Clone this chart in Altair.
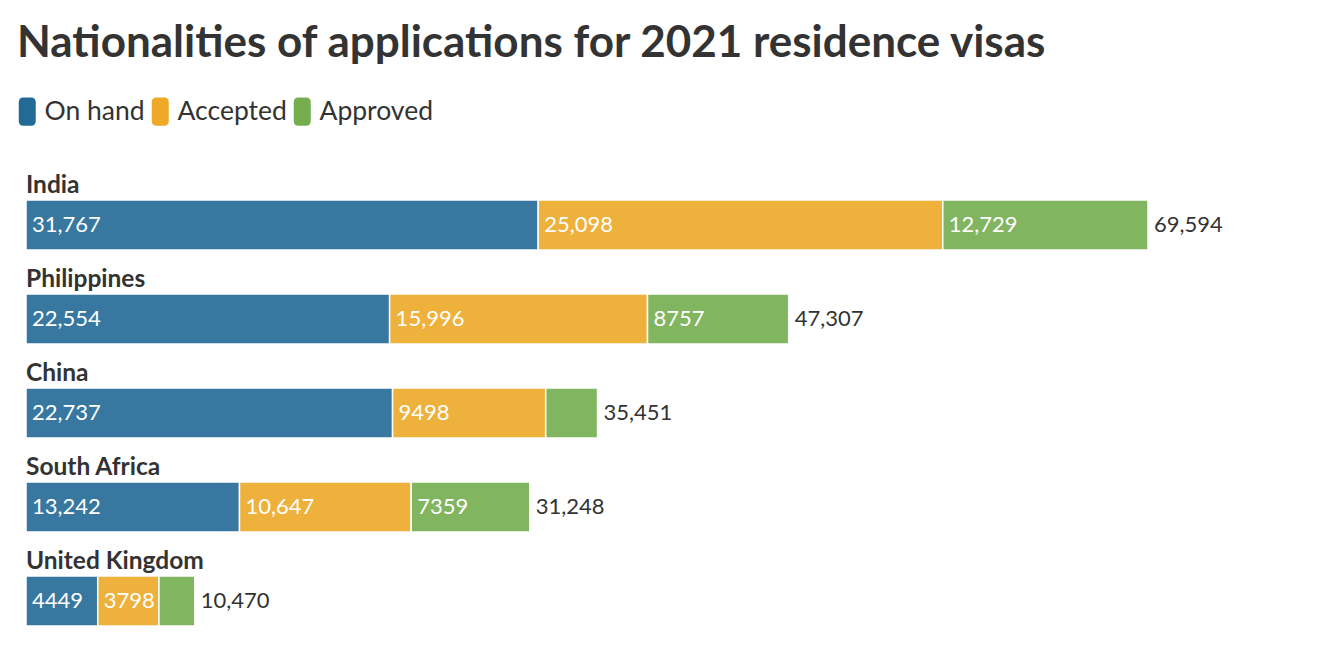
import altair as alt
import pandas as pd

countries = ["India", "Philippines", "China", "South Africa", "United Kingdom"]
statuses = ["On hand", "Accepted", "Approved"]
on_hand = [31767, 22554, 22737, 13242, 4449]
accepted = [25098, 15996, 9498, 10647, 3798]
approved = [12729, 8757, 3216, 7359, 2223]
totals = [69594, 47307, 35451, 31248, 10470]
colors = ["#236a96", "#eda927", "#75ae4e"]


def fmt(v):
    return f"{v:,}" if v >= 10000 else str(v)


rows = []
for i, c in enumerate(countries):
    start = 0
    for s, vals in zip(statuses, [on_hand, accepted, approved]):
        v = vals[i]
        rows.append({
            "country": c, "status": s, "value": v,
            "start": start, "end": start + v,
            "label": fmt(v) if v >= 3500 else "",
        })
        start += v
seg = pd.DataFrame(rows)
tot = pd.DataFrame({"country": countries, "total": totals,
                    "label": [fmt(t) for t in totals]})

FONT = "Lato"
xscale = alt.Scale(domain=[0, totals[0]], nice=False, zero=True)
yscale = alt.Scale(domain=countries, paddingInner=0.468, paddingOuter=0)

legend_path = ("M-1,-1.1 Q-1,-1.65 -0.45,-1.65 H0.45 Q1,-1.65 1,-1.1 V1.1 "
               "Q1,1.65 0.45,1.65 H-0.45 Q-1,1.65 -1,1.1 Z")

bars = alt.Chart(seg).mark_bar(opacity=0.9, stroke="white", strokeWidth=1.5).encode(
    x=alt.X("start:Q", scale=xscale, axis=None),
    x2="end:Q",
    y=alt.Y("country:N", scale=yscale, axis=None, sort=countries),
    color=alt.Color(
        "status:N",
        scale=alt.Scale(domain=statuses, range=colors),
        legend=alt.Legend(
            title=None, orient="none", direction="horizontal",
            legendX=-12, legendY=-102,
            symbolType=legend_path, symbolSize=289, symbolOpacity=1,
            symbolStrokeWidth=0,
            labelFont=FONT, labelFontSize=26.5, labelColor="#333333",
            labelOffset=4, columnPadding=2, padding=0,
        ),
    ),
)

seg_text = alt.Chart(seg).mark_text(
    align="left", baseline="middle", dx=6, color="white",
    font=FONT, fontSize=22,
).encode(
    x=alt.X("start:Q", scale=xscale),
    y=alt.Y("country:N", scale=yscale, sort=countries),
    text="label:N",
)

tot_text = alt.Chart(tot).mark_text(
    align="left", baseline="middle", dx=6, color="#333333",
    font=FONT, fontSize=22,
).encode(
    x=alt.X("total:Q", scale=xscale),
    y=alt.Y("country:N", scale=yscale, sort=countries),
    text="label:N",
)

name_text = alt.Chart(tot).mark_text(
    align="left", baseline="alphabetic", dy=-7, color="#333333",
    font=FONT, fontSize=24.5, fontWeight="bold",
).encode(
    x=alt.value(0),
    y=alt.Y("country:N", scale=yscale, sort=countries, bandPosition=0),
    text="country:N",
)

chart = alt.layer(bars, seg_text, tot_text, name_text).properties(
    width=1122,
    height=426,
    autosize=alt.AutoSizeParams(type="none"),
    padding={"left": 18, "top": 192, "right": 120, "bottom": 20},
    title=alt.TitleParams(
        "Nationalities of applications for 2021 residence visas",
        anchor="start", frame="group", font=FONT, fontSize=44,
        fontWeight="bold", color="#333333", dx=-9, offset=32,
    ),
).configure_view(stroke=None)

chart.save("out.html", embed_options={"renderer": "svg", "actions": False})
